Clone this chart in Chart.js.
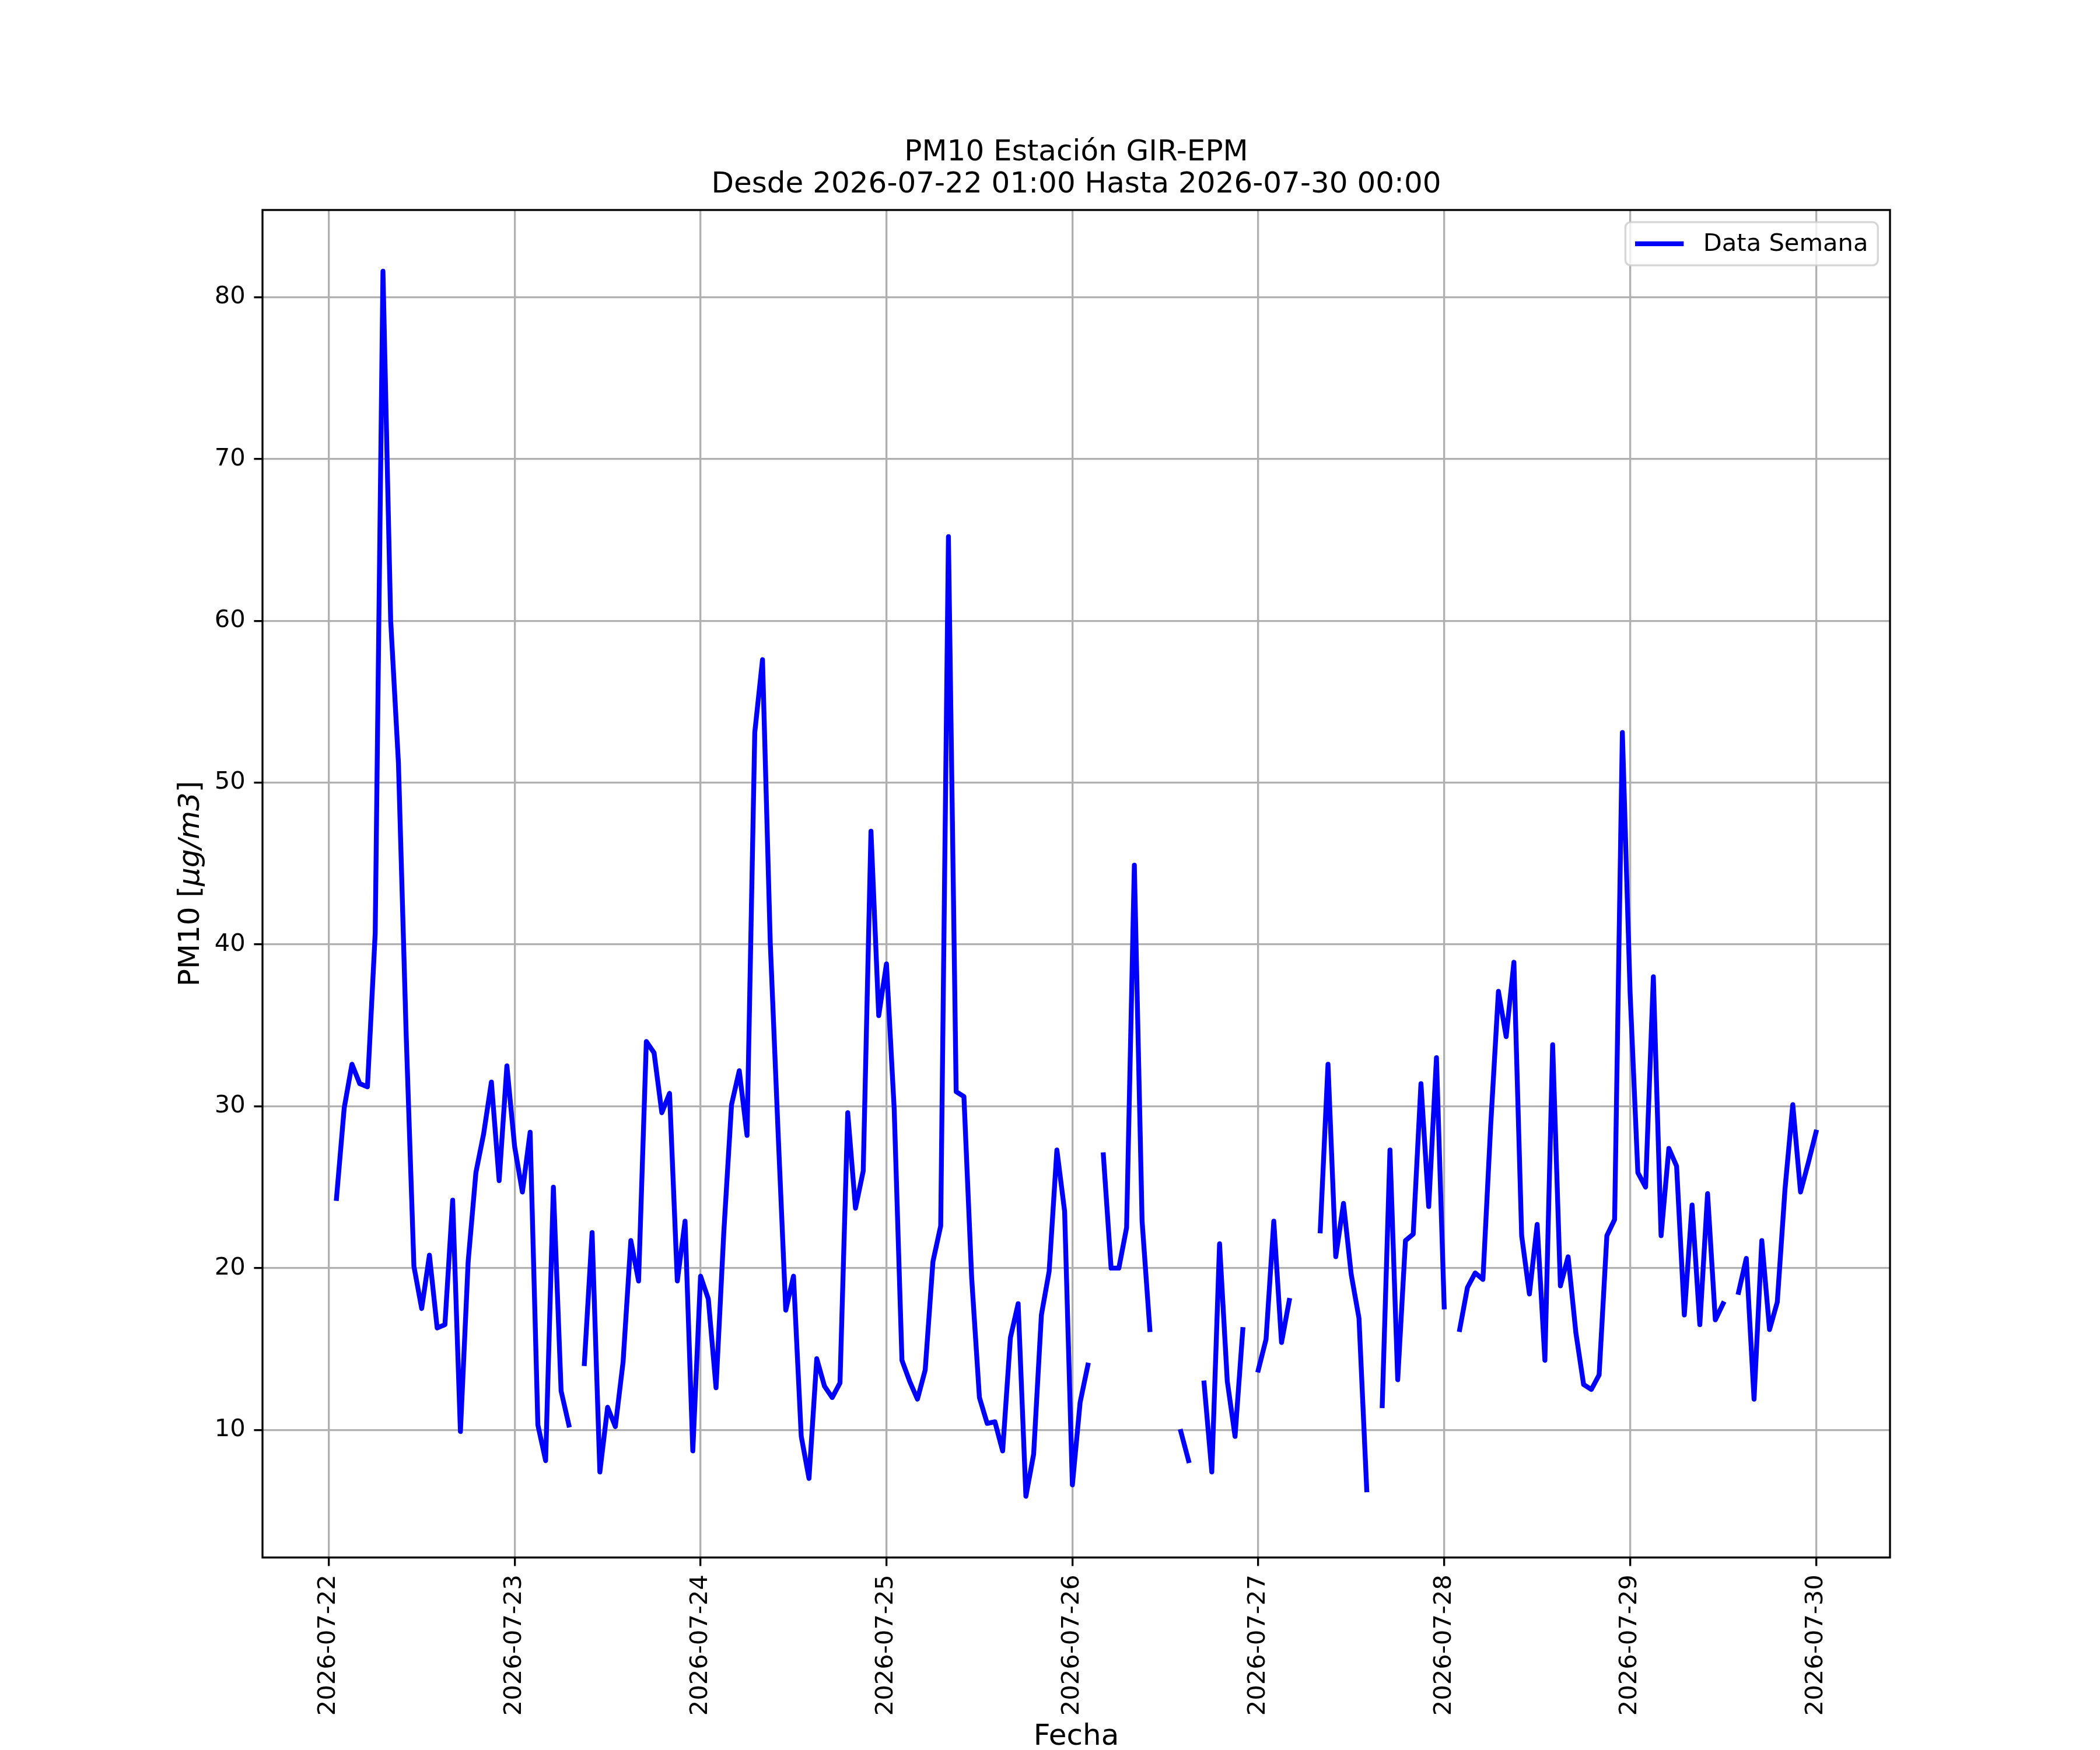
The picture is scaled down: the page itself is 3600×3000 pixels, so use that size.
<!DOCTYPE html>
<html>
<head>
<meta charset="utf-8">
<script src="https://cdn.jsdelivr.net/npm/chart.js@4.4.1/dist/chart.umd.min.js"></script>
<style>
  html, body { margin: 0; padding: 0; background: #fff; }
  canvas { display: block; }
</style>
</head>
<body>
<canvas id="grafico" width="3600" height="3000"></canvas>
<script>
const titulo = ['PM10 Estación GIR-EPM', 'Desde 2026-07-22 01:00 Hasta 2026-07-30 00:00'];
const ejeX = 'Fecha';
const serieNombre = 'Data Semana';
const diasEtiquetas = ['2026-07-22', '2026-07-23', '2026-07-24', '2026-07-25', '2026-07-26',
  '2026-07-27', '2026-07-28', '2026-07-29', '2026-07-30'];
const yTicks = [10, 20, 30, 40, 50, 60, 70, 80];

// PM10 horario desde 2026-07-22 01:00 (null = sin dato)
const pm10 = [
  // 07-22
  24.3, 29.9, 32.6, 31.4, 31.2, 40.7, 81.6, 60.0, 51.2, 34.4, 20.1, 17.5,
  20.8, 16.3, 16.5, 24.2, 9.9, 20.4, 25.9, 28.3, 31.5, 25.4, 32.5, 27.5,
  // 07-23
  24.7, 28.4, 10.3, 8.1, 25.0, 12.4, 10.3, null, 14.1, 22.2, 7.4, 11.4,
  10.2, 14.2, 21.7, 19.2, 34.0, 33.3, 29.6, 30.8, 19.2, 22.9, 8.7, 19.5,
  // 07-24
  18.1, 12.6, 22.2, 30.1, 32.2, 28.2, 53.1, 57.6, 40.1, 28.5, 17.4, 19.5,
  9.6, 7.0, 14.4, 12.7, 12.0, 12.9, 29.6, 23.7, 26.0, 47.0, 35.6, 38.8,
  // 07-25
  29.8, 14.3, 13.0, 11.9, 13.7, 20.4, 22.6, 65.2, 30.9, 30.6, 19.4, 12.0,
  10.4, 10.5, 8.7, 15.7, 17.8, 5.9, 8.5, 17.1, 19.8, 27.3, 23.5, 6.6,
  // 07-26
  11.7, 14.0, null, 27.0, 20.0, 20.0, 22.5, 44.9, 22.9, 16.2, null, null,
  null, 9.9, 8.1, null, 12.9, 7.4, 21.5, 13.0, 9.6, 16.2, null, 13.7,
  // 07-27
  15.6, 22.9, 15.4, 18.0, null, null, null, 22.3, 32.6, 20.7, 24.0, 19.6,
  16.9, 6.3, null, 11.5, 27.3, 13.1, 21.7, 22.1, 31.4, 23.8, 33.0, 17.6,
  // 07-28
  null, 16.2, 18.8, 19.7, 19.3, 28.8, 37.1, 34.3, 38.9, 22.0, 18.4, 22.7,
  14.3, 33.8, 18.9, 20.7, 16.0, 12.8, 12.5, 13.4, 22.0, 23.0, 53.1, 37.0,
  // 07-29
  25.9, 25.0, 38.0, 22.0, 27.4, 26.3, 17.1, 23.9, 16.5, 24.6, 16.8, 17.8,
  null, 18.5, 20.6, 11.9, 21.7, 16.2, 17.9, 24.9, 30.1, 24.7, 26.5, 28.4
];

const puntos = pm10.map((v, i) => ({ x: i + 1, y: v }));
const validos = pm10.filter(v => v !== null);
const yMin = Math.min(...validos), yMax = Math.max(...validos);
const yMargen = (yMax - yMin) * 0.05;
const xMargen = (puntos.length - 1) * 0.05;

const fuente = 'DejaVu Sans';
const pt = 300 / 72;

// marco de los ejes, leyenda y etiqueta del eje y
const extras = {
  id: 'extras',
  afterDraw(chart) {
    const ctx = chart.ctx;
    const a = chart.chartArea;
    ctx.save();
    ctx.strokeStyle = '#000';
    ctx.lineWidth = 0.8 * pt;
    ctx.strokeRect(a.left, a.top, a.right - a.left, a.bottom - a.top);

    const ds = chart.data.datasets[0];
    const fs = 10 * pt;
    ctx.font = fs + 'px "' + fuente + '"';
    const tw = ctx.measureText(ds.label).width;
    const pad = 0.4 * fs;
    const w = pad + 2 * fs + 0.8 * fs + tw + pad;
    const h = 74;
    const x = a.right - 0.5 * fs - w;
    const y = a.top + 0.5 * fs;
    ctx.beginPath();
    ctx.roundRect(x, y, w, h, 9);
    ctx.fillStyle = 'rgba(255,255,255,0.8)';
    ctx.fill();
    ctx.strokeStyle = 'rgba(204,204,204,0.8)';
    ctx.lineWidth = 0.8 * pt;
    ctx.stroke();
    ctx.beginPath();
    ctx.moveTo(x + pad, y + h / 2);
    ctx.lineTo(x + pad + 2 * fs, y + h / 2);
    ctx.strokeStyle = ds.borderColor;
    ctx.lineWidth = ds.borderWidth;
    ctx.lineCap = 'butt';
    ctx.stroke();
    ctx.fillStyle = '#000';
    ctx.textBaseline = 'middle';
    ctx.textAlign = 'left';
    ctx.fillText(ds.label, x + pad + 2.8 * fs, y + h / 2 + 1);

    // etiqueta del eje y con la parte matemática en cursiva
    const partes = [['PM10 [', 'normal'], ['μg/m3', 'italic'], [']', 'normal']];
    const fy = 12 * pt;
    let total = 0;
    partes.forEach(p => {
      ctx.font = p[1] + ' ' + fy + 'px "' + fuente + '"';
      total += ctx.measureText(p[0]).width;
    });
    ctx.translate(328, (a.top + a.bottom) / 2);
    ctx.rotate(-Math.PI / 2);
    let cx = -total / 2;
    partes.forEach(p => {
      ctx.font = p[1] + ' ' + fy + 'px "' + fuente + '"';
      ctx.fillText(p[0], cx, 0);
      cx += ctx.measureText(p[0]).width;
    });
    ctx.restore();
  }
};

new Chart(document.getElementById('grafico'), {
  type: 'line',
  data: {
    datasets: [{
      label: serieNombre,
      data: puntos,
      borderColor: '#0000ff',
      borderWidth: 2 * pt,
      borderCapStyle: 'square',
      borderJoinStyle: 'round',
      pointRadius: 0,
      spanGaps: false,
      tension: 0
    }]
  },
  options: {
    responsive: false,
    animation: false,
    devicePixelRatio: 1,
    layout: { padding: { top: 235, right: 360, bottom: 0, left: 0 } },
    plugins: {
      legend: { display: false },
      tooltip: { enabled: false },
      title: {
        display: true,
        text: titulo,
        fullSize: false,
        color: '#000',
        font: { family: fuente, size: 12 * pt, weight: 'normal', lineHeight: 1.1 },
        padding: { top: 0, bottom: 15 }
      }
    },
    scales: {
      x: {
        type: 'linear',
        min: 1 - xMargen,
        max: puntos.length + xMargen,
        afterBuildTicks: s => { s.ticks = diasEtiquetas.map((d, i) => ({ value: i * 24 })); },
        afterFit: s => { s.height = 330; },
        ticks: {
          autoSkip: false,
          minRotation: 90,
          maxRotation: 90,
          padding: 3.5 * pt,
          color: '#000',
          font: { family: fuente, size: 10 * pt },
          callback: (v, i) => diasEtiquetas[i]
        },
        grid: {
          color: '#b0b0b0',
          lineWidth: 0.8 * pt,
          tickColor: '#000',
          tickWidth: 0.8 * pt,
          tickLength: 3.5 * pt
        },
        border: { display: false },
        title: {
          display: true,
          text: ejeX,
          color: '#000',
          font: { family: fuente, size: 12 * pt, lineHeight: 0.88 },
          padding: { top: 0, bottom: 0 }
        }
      },
      y: {
        min: yMin - yMargen,
        max: yMax + yMargen,
        afterBuildTicks: s => { s.ticks = yTicks.map(v => ({ value: v })); },
        afterFit: s => { s.width = 450; },
        ticks: {
          padding: 3.5 * pt,
          color: '#000',
          font: { family: fuente, size: 10 * pt },
          callback: v => String(v)
        },
        grid: {
          color: '#b0b0b0',
          lineWidth: 0.8 * pt,
          tickColor: '#000',
          tickWidth: 0.8 * pt,
          tickLength: 3.5 * pt
        },
        border: { display: false },
        title: { display: false }
      }
    }
  },
  plugins: [extras]
});
</script>
</body>
</html>
